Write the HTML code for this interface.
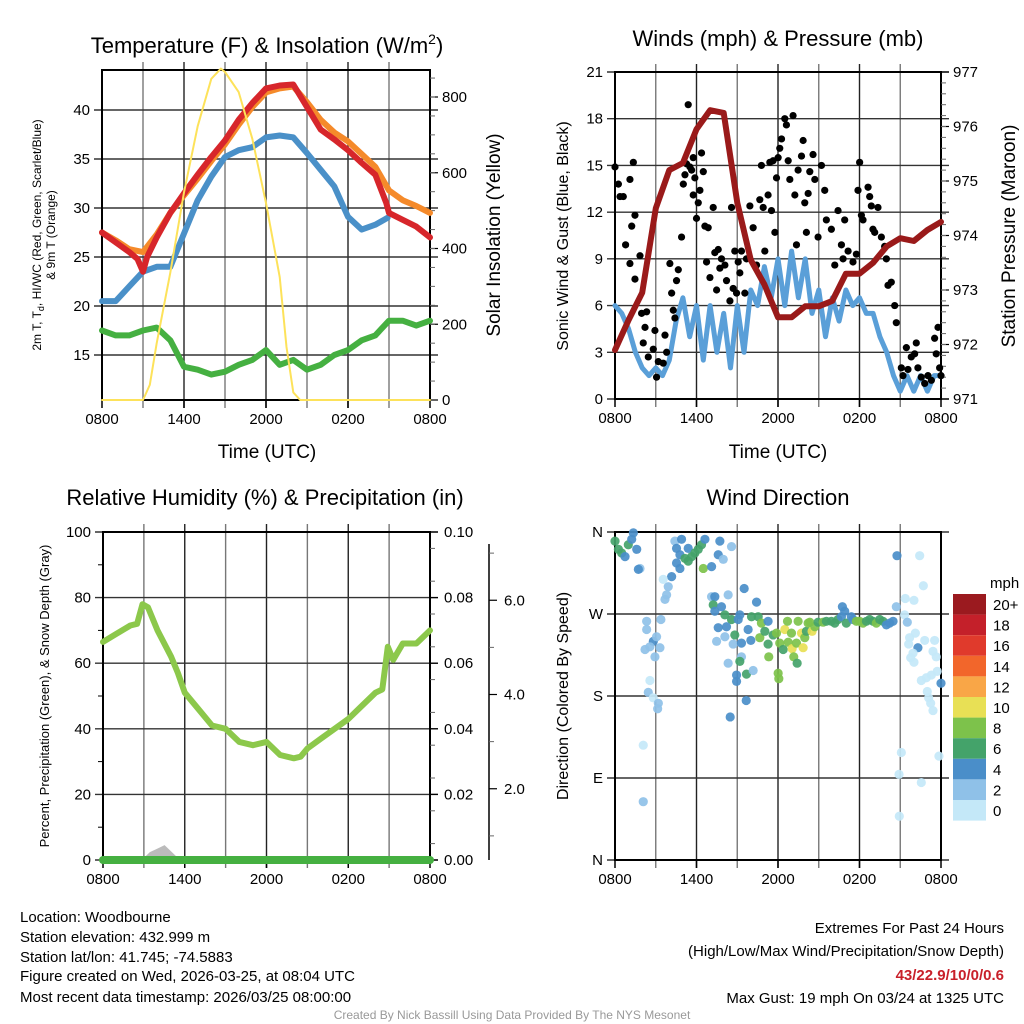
<!DOCTYPE html>
<html><head><meta charset="utf-8"><style>
body{margin:0;background:#fff;}
svg{display:block;font-family:"Liberation Sans",Arial,sans-serif;}
</style></head><body>
<svg id="fig" width="1024" height="1024" viewBox="0 0 1024 1024" xmlns="http://www.w3.org/2000/svg">
<rect width="1024" height="1024" fill="#fff"/>
<g id="p1"></g>
<g id="p2"></g>
<g id="p3"></g>
<g id="p4"></g>
<text x="267" y="53" font-size="22" text-anchor="middle">Temperature (F) &amp; Insolation (W/m<tspan font-size="14" dy="-9">2</tspan><tspan dy="9">)</tspan></text>
<text x="778" y="46" font-size="22" text-anchor="middle">Winds (mph) &amp; Pressure (mb)</text>
<text x="265" y="505" font-size="22" text-anchor="middle">Relative Humidity (%) &amp; Precipitation (in)</text>
<text x="778" y="505" font-size="22" text-anchor="middle">Wind Direction</text>
<text x="267" y="458" font-size="19" text-anchor="middle">Time (UTC)</text>
<text x="778" y="458" font-size="19" text-anchor="middle">Time (UTC)</text>
<text transform="translate(41,235) rotate(-90)" font-size="12" text-anchor="middle">2m T, T<tspan font-size="9" dy="3">d</tspan><tspan dy="-3">, HI/WC (Red, Green, Scarlet/Blue)</tspan></text>
<text transform="translate(55,235) rotate(-90)" font-size="12" text-anchor="middle">&amp; 9m T (Orange)</text>
<text transform="translate(500,235) rotate(-90)" font-size="19" text-anchor="middle">Solar Insolation (Yellow)</text>
<text transform="translate(568,236) rotate(-90)" font-size="16" text-anchor="middle">Sonic Wind &amp; Gust (Blue, Black)</text>
<text transform="translate(1015,236) rotate(-90)" font-size="19" text-anchor="middle">Station Pressure (Maroon)</text>
<text transform="translate(49,696) rotate(-90)" font-size="13" text-anchor="middle">Percent, Precipitation (Green), &amp; Snow Depth (Gray)</text>
<text transform="translate(568,696) rotate(-90)" font-size="16" text-anchor="middle">Direction (Colored By Speed)</text>
<g font-size="15">
<text x="20" y="922">Location: Woodbourne</text>
<text x="20" y="942">Station elevation: 432.999 m</text>
<text x="20" y="962">Station lat/lon: 41.745; -74.5883</text>
<text x="20" y="981">Figure created on Wed, 2026-03-25, at 08:04 UTC</text>
<text x="20" y="1002">Most recent data timestamp: 2026/03/25 08:00:00</text>
</g>
<g font-size="15" text-anchor="end">
<text x="1004" y="933">Extremes For Past 24 Hours</text>
<text x="1004" y="956">(High/Low/Max Wind/Precipitation/Snow Depth)</text>
<text x="1004" y="980" fill="#c8202a" font-weight="bold">43/22.9/10/0/0.6</text>
<text x="1004" y="1003">Max Gust: 19 mph On 03/24 at 1325 UTC</text>
</g>
<text x="512" y="1019" font-size="12" fill="#999" text-anchor="middle">Created By Nick Bassill Using Data Provided By The NYS Mesonet</text>
</svg>
<script>
// ---- data ----
const xTickHours=[0,6,12,18,24];
const xTickLabels=["0800","1400","2000","0200","0800"];
const hourly=[0,1,2,3,4,5,6,7,8,9,10,11,12,13,14,15,16,17,18,19,20,21,22,23,24];
const redHours=[0,1,2,2.6,3,3.3,4,5,6,7,8,9,10,11,12,13,14,15,16,17,18,19,20,20.8,21,22,23,24];
const tempRed=[27.5,26.5,25.5,24.8,23.5,25,27,29.5,31.5,33.4,35.2,36.9,39,40.7,42.2,42.5,42.6,40.3,38,37,35.9,34.6,33.4,30.5,29.5,28.8,28.1,27];
const tempOrange=[27.5,26.7,25.8,25.5,27.3,29.5,31.3,33,34.8,36.5,38.5,40.3,41.8,42.2,42.4,40.8,39,37.7,36.8,35.5,34.2,31.8,30.8,30.2,29.5];
const blueHours=[0,1,2,3,4,5,6,7,8,9,10,11,12,13,14,15,16,17,18,19,20,20.9];
const tempBlue=[20.5,20.5,22,23.5,24,24,27.4,30.8,33.2,35.2,35.9,36.2,37.2,37.4,37.2,35.6,33.9,32.2,29.1,27.8,28.3,29];
const tempGreen=[17.5,17,17,17.5,17.8,16.5,13.8,13.5,13,13.3,14,14.5,15.5,14,14.5,13.5,14,15,15.5,16.5,17,18.5,18.5,18,18.5];
const solarHours=[0,3,3.5,4,5,6,7,8,8.7,9,10,11,12,13,13.5,14,14.5,24];
const solarVals=[0,0,40,150,336,548,723,848,875,866,813,690,520,325,140,20,0,0];
const windHours=[0,0.5,1,1.5,2,2.5,3,3.5,4,4.5,5,5.5,6,6.5,7,7.5,8,8.5,9,9.5,10,10.5,11,11.5,12,12.5,13,13.5,14,14.5,15,15.5,16,16.5,17,17.5,18,18.5,19,19.5,20,20.5,21,21.5,22,22.5,23,23.5,24];
const windVals=[6,5.5,4.5,3,2,1.5,2,1.5,2.5,5,6.5,4,6,2.5,6,3,5.5,2,6,3,7,6,8.5,6.5,9,6,9.5,6.5,9,5.5,7,4,6.5,5,7,6,6.5,5.5,5.5,4,3,1.5,0.5,1.5,0.5,1.5,0.5,1.5,1.5];
const pressure=[971.9,972.45,972.95,974.5,975.2,975.33,975.95,976.3,976.25,974.6,973.55,973.1,972.5,972.5,972.7,972.7,972.8,973.3,973.3,973.5,973.8,973.95,973.9,974.1,974.25];
const gustHours=[0,0.25,0.37,1.1,0.61,0.78,1.1,1.23,1.35,1.47,1.47,1.84,1.96,2.33,2.08,2.21,2.45,2.82,2.94,3.06,3.19,3.55,3.68,3.8,4.04,4.17,4.29,4.41,4.53,4.66,4.9,5.03,5.15,5.27,5.39,5.52,5.64,5.76,5.76,5.88,6.0,6.13,6.25,6.37,6.5,6.62,6.74,6.86,6.99,7.23,7.35,7.48,7.6,7.72,7.84,8.09,8.21,8.46,8.58,8.7,8.82,8.95,9.07,9.19,9.31,9.56,9.68,9.93,10.17,10.42,10.66,10.78,10.91,11.03,11.27,11.4,11.52,11.64,11.77,11.89,12.01,12.13,12.26,12.5,12.62,12.75,12.87,13.11,13.24,13.36,13.48,13.73,13.85,13.97,14.09,14.22,14.34,14.58,14.71,14.95,15.2,15.44,15.56,15.93,16.18,16.42,16.67,16.79,16.91,17.16,17.52,17.77,17.89,18.01,18.14,18.26,18.63,18.75,18.87,18.99,19.12,19.36,19.61,19.85,19.98,20.1,20.34,20.59,20.71,21.08,21.2,21.45,21.57,21.81,22.06,22.18,22.3,22.55,22.8,23.04,23.29,23.53,23.65,23.78,23.9,24];
const gustVals=[14.9,13.8,13,14.1,13,9.9,8.7,11.1,15.2,11.8,7.7,9.2,5.5,5.6,3.6,4.6,2.7,3.2,4.4,1.4,2.4,2.3,4.1,3.0,8.7,6.8,5.7,5.2,7.6,8.3,10.4,13.8,14.4,15.1,18.9,14.9,14.7,15.5,13.1,14.2,11.6,12.6,13.4,15.8,14.6,11.1,8.8,11,7.8,12.3,9.4,7.0,9.6,8.4,9.0,8.6,7.6,6.3,12.3,7.1,9.5,6.8,8.8,8.1,9.5,6.8,9.0,12.4,11.0,8.6,12.8,15.0,12.3,9.5,13.1,15.2,12.1,15.3,10.7,14.2,15.5,16.1,16.7,18.0,17.6,15.3,14.1,18.2,13.1,9.9,14.7,15.6,16.6,12.6,10.7,13.2,14.6,15.7,14.1,10.4,15.0,13.4,11.5,10.9,8.6,12.1,9.9,9.0,11.5,9.5,8.8,9.3,13.4,15.2,11.8,11.5,13.6,13.0,12.4,10.9,10.7,12.3,10.4,9.8,9.0,7.3,7.5,6.0,4.9,2.0,1.5,3.3,1.9,2.7,2.9,3.6,2.0,1.4,1.0,1.5,1.2,3.9,2.9,4.6,2.0,1.5];
const rhHours=[0,1,2,2.5,2.9,3.3,4,5,5.5,6,7,8,9,10,11,12,13,14,14.5,15,16,17,18,19,20,20.5,20.9,21.3,22,23,24];
const rhVals=[66.5,69,71.5,72,78,77,70,62,57,51,46,41,40,36,35,36,32,31,31.5,34,37,40,43,47,51,52,65,61,66,66,70];
const snowHours=[3,3.5,4,4.5,5,5.5];
const snowVals=[0,0.002,0.003,0.004,0.002,0];
const dirHours=[0,0.25,0.49,0.74,0.98,1.35,1.23,1.6,1.84,1.72,4.17,3.92,3.8,3.68,3.55,4.41,4.9,4.53,4.78,5.15,5.39,5.64,5.88,6.13,6.37,6.62,6.5,7.11,4.53,4.78,5.39,7.72,7.6,7.97,8.58,2.33,2.33,2.21,2.82,2.57,3.06,2.94,3.31,3.38,2.57,2.45,2.82,3.19,3.14,2.08,2.08,7.11,7.35,7.23,7.84,7.35,8.09,8.58,8.33,7.6,8.21,7.48,8.09,8.82,8.7,9.31,9.19,9.07,9.51,9.31,9.19,8.33,8.95,8.95,9.68,10.17,9.66,8.48,10.42,10.05,10.54,9.8,10.0,10.66,10.78,11.03,11.27,11.27,11.32,11.64,11.89,12.01,12.06,12.13,12.38,12.5,12.7,12.75,12.99,13.04,13.16,13.41,13.36,13.48,13.73,13.85,13.97,14.09,14.22,14.34,14.51,14.71,14.95,15.32,15.56,15.93,16.18,16.42,16.67,16.74,16.91,17.03,17.4,17.52,17.77,18.01,18.26,18.51,18.75,19.0,19.24,19.49,19.73,19.98,20.22,20.47,20.71,20.76,21.32,21.52,21.37,22.01,22.43,22.7,22.11,21.69,21.62,22.8,23.53,22.3,21.94,21.77,22.01,23.41,23.65,23.72,23.29,22.92,22.55,24,22.99,23.09,23.24,23.41,21.08,20.91,22.55,23.85,20.93];
const dirDeg=[350,341,337,333,346,359,352,341,320,319,311,300,291,286,308,350,352,342,335,331,342,333,337,341,346,352,320,322,326,320,328,350,335,330,344,262,253,231,240,234,245,223,233,264,197,184,178,172,166,126,64,289,289,280,278,273,269,264,291,255,256,240,245,247,237,238,269,264,298,223,218,216,203,196,204,208,175,157,283,267,267,253,241,244,260,251,262,237,223,247,249,205,199,238,231,253,262,239,249,232,223,216,238,262,249,233,244,251,260,261,251,256,261,261,262,262,260,264,267,278,273,260,267,264,262,262,260,262,264,262,260,264,262,258,260,262,278,334,269,261,287,285,334,301,249,244,237,241,241,233,227,222,217,229,223,207,203,200,197,194,185,178,172,164,118,94,85,114,48];
const dirSpeed=[6,6,6,4,6,4,4,4,2,4,4,2,2,2,1,2,4,4,4,6,4,6,6,6,6,4,8,4,4,4,6,4,4,2,2,2,2,2,4,2,2,2,2,2,1,2,1,2,2,1,2,2,4,6,4,4,6,6,2,4,4,2,2,6,2,4,4,4,4,2,6,2,4,4,6,2,4,4,4,6,6,4,4,8,8,6,4,6,8,6,8,8,8,8,6,10,8,8,8,10,8,6,8,8,10,10,8,6,8,8,10,8,6,8,6,6,6,6,4,4,4,6,4,4,8,8,8,6,6,6,8,6,6,4,4,4,2,4,1,2,1,1,1,1,1,1,1,1,1,4,1,1,1,1,1,1,1,1,1,4,1,1,1,1,1,1,1,1,1];
const speedLabels=["20+","18","16","14","12","10","8","6","4","2","0"];
const speedColors=["#9b1a1f","#c4202a","#e03a2c","#f2662b","#f9a647","#e8e055","#7dc24b","#44a36a","#4a8ec9","#8fc1e8","#c4e8f8"];

// ---- helpers ----
const NS="http://www.w3.org/2000/svg";
function mk(parent,tag,attrs){const e=document.createElementNS(NS,tag);for(const k in attrs)e.setAttribute(k,attrs[k]);parent.appendChild(e);return e;}
function scale(d0,d1,r0,r1){return v=>r0+(v-d0)*(r1-r0)/(d1-d0);}
function poly(g,xs,ys,sx,sy,color,w,name){
  let d="";for(let i=0;i<xs.length;i++){d+=(i?"L":"M")+sx(xs[i]).toFixed(1)+","+sy(ys[i]).toFixed(1);}
  const p=mk(g,"path",{d:d,fill:"none",stroke:color,"stroke-width":w,"stroke-linejoin":"round","stroke-linecap":"round"});
  
  
  return p;
}
function frame(g,P,sx,leftTicks,sy){
  for(let h=3;h<24;h+=3){const x=sx(h);const l=mk(g,"line",{x1:x,x2:x,y1:P.y0-8,y2:P.y1+8,stroke:(h%6===0?"#222":"#777"),"stroke-width":1.4});
    }
  leftTicks.forEach(v=>{const y=sy(v);const l=mk(g,"line",{x1:P.x0-8,x2:P.x1+8,y1:y,y2:y,stroke:"#333","stroke-width":1.4});
    });
  const r=mk(g,"rect",{x:P.x0,y:P.y0,width:P.x1-P.x0,height:P.y1-P.y0,fill:"none",stroke:"#000","stroke-width":2});
  
  xTickHours.forEach((h,i)=>{const t=mk(g,"text",{x:sx(h),y:P.y1+24,"font-size":15,"text-anchor":"middle"});t.textContent=xTickLabels[i];
    
    mk(g,"line",{x1:sx(h),x2:sx(h),y1:P.y1,y2:P.y1+8,stroke:"#000","stroke-width":1.5});});
}
function leftLabels(g,P,vals,labels,sy){vals.forEach((v,i)=>{const t=mk(g,"text",{x:P.x0-12,y:sy(v)+5,"font-size":15,"text-anchor":"end"});t.textContent=labels[i];
  });}
function rightAxis(g,x,vals,labels,sy,minor,gap){vals.forEach((v,i)=>{const y=sy(v);mk(g,"line",{x1:x,x2:x+8,y1:y,y2:y,stroke:"#000","stroke-width":1.2});
  const t=mk(g,"text",{x:x+(gap||14),y:y+5,"font-size":15});t.textContent=labels[i];
  });
  minor.forEach(v=>{const y=sy(v);mk(g,"line",{x1:x,x2:x+5,y1:y,y2:y,stroke:"#666","stroke-width":1});});}

// ---- panel 1 ----
(function(){
const g=document.getElementById("p1");const P={x0:102,x1:430,y0:70,y1:400};
const sx=scale(0,24,P.x0,P.x1),sy=scale(15,40,355,110),sr=scale(0,800,400,97);
frame(g,P,sx,[15,20,25,30,35,40],sy);
leftLabels(g,P,[15,20,25,30,35,40],["15","20","25","30","35","40"],sy);
const minor=[];for(let v=50;v<870;v+=50)minor.push(v);
rightAxis(g,P.x1,[0,200,400,600,800],["0","200","400","600","800"],sr,minor,12);
poly(g,hourly,tempGreen,sx,sy,"#45b041",6,"dewpoint-line");
poly(g,blueHours,tempBlue,sx,sy,"#4a90c8",6,"windchill-line");
poly(g,hourly,tempOrange,sx,sy,"#f58a2a",6,"temp-9m-line");
poly(g,redHours,tempRed,sx,sy,"#d7262b",6,"temp-2m-line");
poly(g,solarHours,solarVals,sx,sr,"#fde25a",2,"solar-line");
})();

// ---- panel 2 ----
(function(){
const g=document.getElementById("p2");const P={x0:615,x1:941,y0:72,y1:399};
const sx=scale(0,24,P.x0,P.x1),sy=scale(0,21,399,72),sp=scale(971,977,399,72);
const tk=[0,3,6,9,12,15,18,21];
frame(g,P,sx,tk,sy);
leftLabels(g,P,tk,tk.map(String),sy);
const minor=[];for(let v=971.2;v<977;v+=0.2)minor.push(v);
rightAxis(g,P.x1,[971,972,973,974,975,976,977],["971","972","973","974","975","976","977"],sp,minor,12);
poly(g,windHours,windVals,sx,sy,"#5a9fd8",5,"sonic-wind-line");
gustHours.forEach((h,i)=>{const c=mk(g,"circle",{cx:sx(h),cy:sy(gustVals[i]),r:3.6,fill:"#000"});
  
  });
poly(g,hourly,pressure,sx,sp,"#9a1a1a",6,"pressure-line");
})();

// ---- panel 3 ----
(function(){
const g=document.getElementById("p3");const P={x0:103,x1:430,y0:532,y1:860};
const sx=scale(0,24,P.x0,P.x1),sy=scale(0,100,860,532),sp=scale(0,0.1,860,532);
const tk=[0,20,40,60,80,100];
frame(g,P,sx,tk,sy);
leftLabels(g,P,tk,tk.map(String),sy);
const minorL=[10,30,50,70,90];minorL.forEach(v=>mk(g,"line",{x1:P.x0-5,x2:P.x0,y1:sy(v),y2:sy(v),stroke:"#000"}));
const minor=[];for(let v=0.005;v<0.1;v+=0.01)minor.push(v);
rightAxis(g,P.x1,[0,0.02,0.04,0.06,0.08,0.1],["0.00","0.02","0.04","0.06","0.08","0.10"],sp,minor,14);
const ax=mk(g,"line",{x1:489,x2:489,y1:544,y2:860,stroke:"#000","stroke-width":1.5});

const ss=scale(0,8,883,506);
[2,4,6].forEach(v=>{const y=ss(v);mk(g,"line",{x1:489,x2:497,y1:y,y2:y,stroke:"#000","stroke-width":1.2});
  const t=mk(g,"text",{x:504,y:y+5,"font-size":15});t.textContent=v.toFixed(1);
  });
[1,3,5,7].forEach(v=>{const y=ss(v);mk(g,"line",{x1:489,x2:494,y1:y,y2:y,stroke:"#666"});});
let d="M"+sx(snowHours[0])+","+sp(0);snowHours.forEach((h,i)=>{d+="L"+sx(h).toFixed(1)+","+sp(snowVals[i]).toFixed(1);});d+="Z";
const s=mk(g,"path",{d:d,fill:"#bbb",stroke:"#bbb","stroke-width":3});

poly(g,rhHours,rhVals,sx,sy,"#8cc84b",6,"rh-line");
poly(g,[0,24],[0,0],sx,sp,"#45b041",8,"precip-line");
})();

// ---- panel 4 ----
(function(){
const g=document.getElementById("p4");const P={x0:615,x1:941,y0:532,y1:860};
const sx=scale(0,24,P.x0,P.x1),sy=scale(0,360,860,532);
const tk=[0,90,180,270,360],lab=["N","E","S","W","N"];
frame(g,P,sx,tk,sy);
leftLabels(g,P,tk,lab,sy);
dirHours.forEach((h,i)=>{const idx=10-Math.min(5,Math.floor(dirSpeed[i]/2));
  const c=mk(g,"circle",{cx:sx(h),cy:sy(dirDeg[i]),r:4.6,fill:speedColors[idx],"fill-opacity":0.92});
  
  });
const cb=mk(g,"g",{});
const t0=mk(cb,"text",{x:990,y:588,"font-size":15});t0.textContent="mph";
speedLabels.forEach((l,i)=>{const y=594+i*20.6;
  const r=mk(cb,"rect",{x:953,y:y,width:33,height:20.6,fill:speedColors[i]});
  
  const t=mk(cb,"text",{x:993,y:y+16,"font-size":15});t.textContent=l;
  });
})();
</script>
</body></html>
